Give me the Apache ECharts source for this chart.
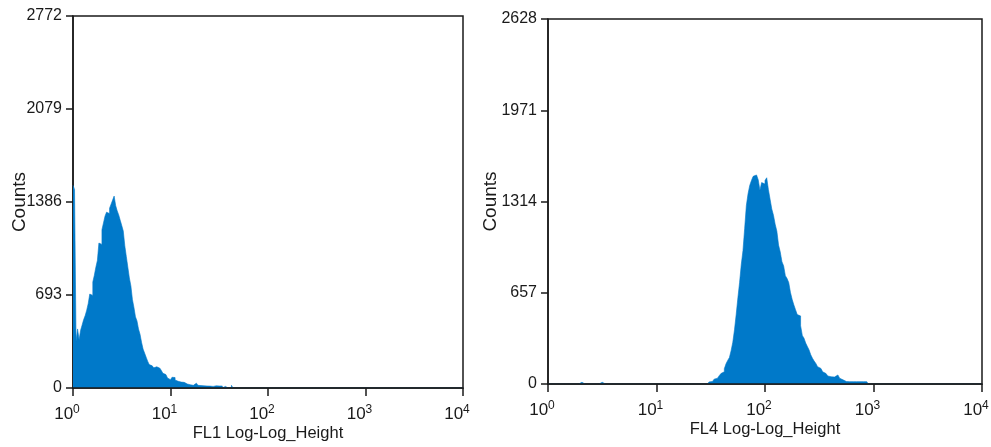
<!DOCTYPE html>
<html>
<head>
<meta charset="utf-8">
<script src="https://cdn.jsdelivr.net/npm/echarts@6/dist/echarts.min.js"></script>
<style>
html,body{margin:0;padding:0;background:#fff;}
#c{width:991px;height:447px;}
</style>
</head>
<body>
<div id="c"></div>
<script>
// ---- data (channels: 256 log channels over 4 decades, 64 per decade) ----
var channelsTotal = 256;
var decadeTicks = [0, 1, 2, 3, 4];            // exponent labels 10^n
var leftTitle = 'FL1 Log-Log_Height';
var rightTitle = 'FL4 Log-Log_Height';
var yTitle = 'Counts';
var leftYTicks = [0, 693, 1386, 2079, 2772];
var rightYTicks = [0, 657, 1314, 1971, 2628];

var leftStart = 0;
var leftCounts = [
  1510,1480,350,440,360,430,470,510,540,580,
  630,700,690,790,840,900,950,1080,1070,1180,
  1230,1280,1310,1300,1340,1370,1400,1430,1360,1320,
  1290,1250,1210,1170,1060,980,900,820,760,660,
  600,530,500,440,400,340,290,260,230,200,
  175,165,160,150,158,150,148,160,130,110,
  100,90,75,62,58,80,78,60,50,45,
  44,46,42,45,30,28,24,22,20,32,
  36,34,20,18,15,16,14,15,15,14,
  15,12,15,16,14,15,13,15,0,12,
  14,0,0,0,20,0
];

var rightLowChannels = [19, 24, 31, 38];
var rightLowCounts = [12, 12, 12, 12];
var rightStart = 94;
var rightCounts = [
  8,15,18,25,35,42,50,60,75,88,
  110,145,170,190,240,300,390,500,620,730,
  860,960,1120,1285,1370,1430,1465,1495,1505,1518,
  1470,1395,1450,1440,1465,1485,1400,1330,1260,1215,
  1150,1100,1000,950,880,850,780,760,730,660,
  610,570,535,500,490,420,350,330,295,270,
  245,210,185,165,148,125,112,100,88,75,
  65,58,52,55,50,60,65,55,42,30,
  22,18,17,17,17,17,17,17,17,17,
  17,17,17,17,17
];

// ---- build step data ----
function buildSeries(start, counts, extraCh, extraVals) {
  var arr = new Array(channelsTotal).fill(0);
  for (var i = 0; i < counts.length; i++) arr[start + i] = counts[i];
  if (extraCh) for (var j = 0; j < extraCh.length; j++) arr[extraCh[j]] = extraVals[j];
  var out = [];
  for (var k = 0; k < channelsTotal; k++) out.push([k, arr[k]]);
  out.push([channelsTotal, 0]);
  return out;
}
var leftData = buildSeries(leftStart, leftCounts);
var rightData = buildSeries(rightStart, rightCounts, rightLowChannels, rightLowCounts);

var FONT = "'Liberation Sans',Arial,sans-serif";
var TXT = '#1a1a1a';
var LINE = '#1a1a1a';
var FILL = '#0079c9';

function xAxisFor(idx, title) {
  return {
    gridIndex: idx, type: 'value', min: 0, max: channelsTotal, interval: channelsTotal / 4,
    z: 5,
    name: title, nameLocation: 'middle', nameGap: 37, nameMoveOverlap: false,
    nameTextStyle: { fontFamily: FONT, fontSize: 16.5, color: TXT },
    axisLine: { show: true, onZero: false, lineStyle: { color: LINE, width: 1.5 } },
    axisTick: { show: true, inside: false, length: 8, lineStyle: { color: LINE, width: 1.5 } },
    splitLine: { show: false },
    axisLabel: {
      margin: 15, padding: [0, 12, 0, 0],
      formatter: function (v) {
        var n = decadeTicks[Math.round(v / (channelsTotal / 4))];
        return '{b|10}{s|' + n + '}';
      },
      rich: {
        b: { fontFamily: FONT, fontSize: 17, color: TXT, lineHeight: 20, verticalAlign: 'bottom' },
        s: { fontFamily: FONT, fontSize: 12, color: TXT, lineHeight: 20, verticalAlign: 'bottom', padding: [0, 0, 7, 0] }
      }
    }
  };
}
function yAxisFor(idx, ticks, gap) {
  return {
    gridIndex: idx, type: 'value', min: ticks[0], max: ticks[ticks.length - 1],
    interval: ticks[1] - ticks[0], z: 1,
    name: yTitle, nameLocation: 'middle', nameGap: gap, nameRotate: 90, nameMoveOverlap: false,
    nameTextStyle: { fontFamily: FONT, fontSize: 19, color: TXT },
    axisLine: { show: true, lineStyle: { color: LINE, width: 1.5 } },
    axisTick: { show: true, inside: false, length: 7, lineStyle: { color: LINE, width: 1.5 } },
    splitLine: { show: false },
    axisLabel: { margin: 11, fontFamily: FONT, fontSize: 16, color: TXT,
      formatter: function (v) { return String(v); } }
  };
}

var chart = echarts.init(document.getElementById('c'), null, { renderer: 'canvas' });
chart.setOption({
  backgroundColor: '#fff',
  animation: false,
  grid: [
    { left: 73, top: 16, width: 390, height: 372, containLabel: false, outerBoundsMode: 'none',
      show: true, borderColor: LINE, borderWidth: 1.5, backgroundColor: 'transparent' },
    { left: 548, top: 19, width: 434, height: 365, containLabel: false, outerBoundsMode: 'none',
      show: true, borderColor: LINE, borderWidth: 1.5, backgroundColor: 'transparent' }
  ],
  xAxis: [xAxisFor(0, leftTitle), xAxisFor(1, rightTitle)],
  yAxis: [yAxisFor(0, leftYTicks, 44), yAxisFor(1, rightYTicks, 48)],
  series: [
    { type: 'line', xAxisIndex: 0, yAxisIndex: 0, data: leftData, step: 'end', symbol: 'none',
      lineStyle: { width: 0.6, color: FILL }, areaStyle: { color: FILL, opacity: 1 }, z: 2 },
    { type: 'line', xAxisIndex: 1, yAxisIndex: 1, data: rightData, step: 'end', symbol: 'none',
      lineStyle: { width: 0.6, color: FILL }, areaStyle: { color: FILL, opacity: 1 }, z: 2 }
  ]
});
</script>
</body>
</html>
